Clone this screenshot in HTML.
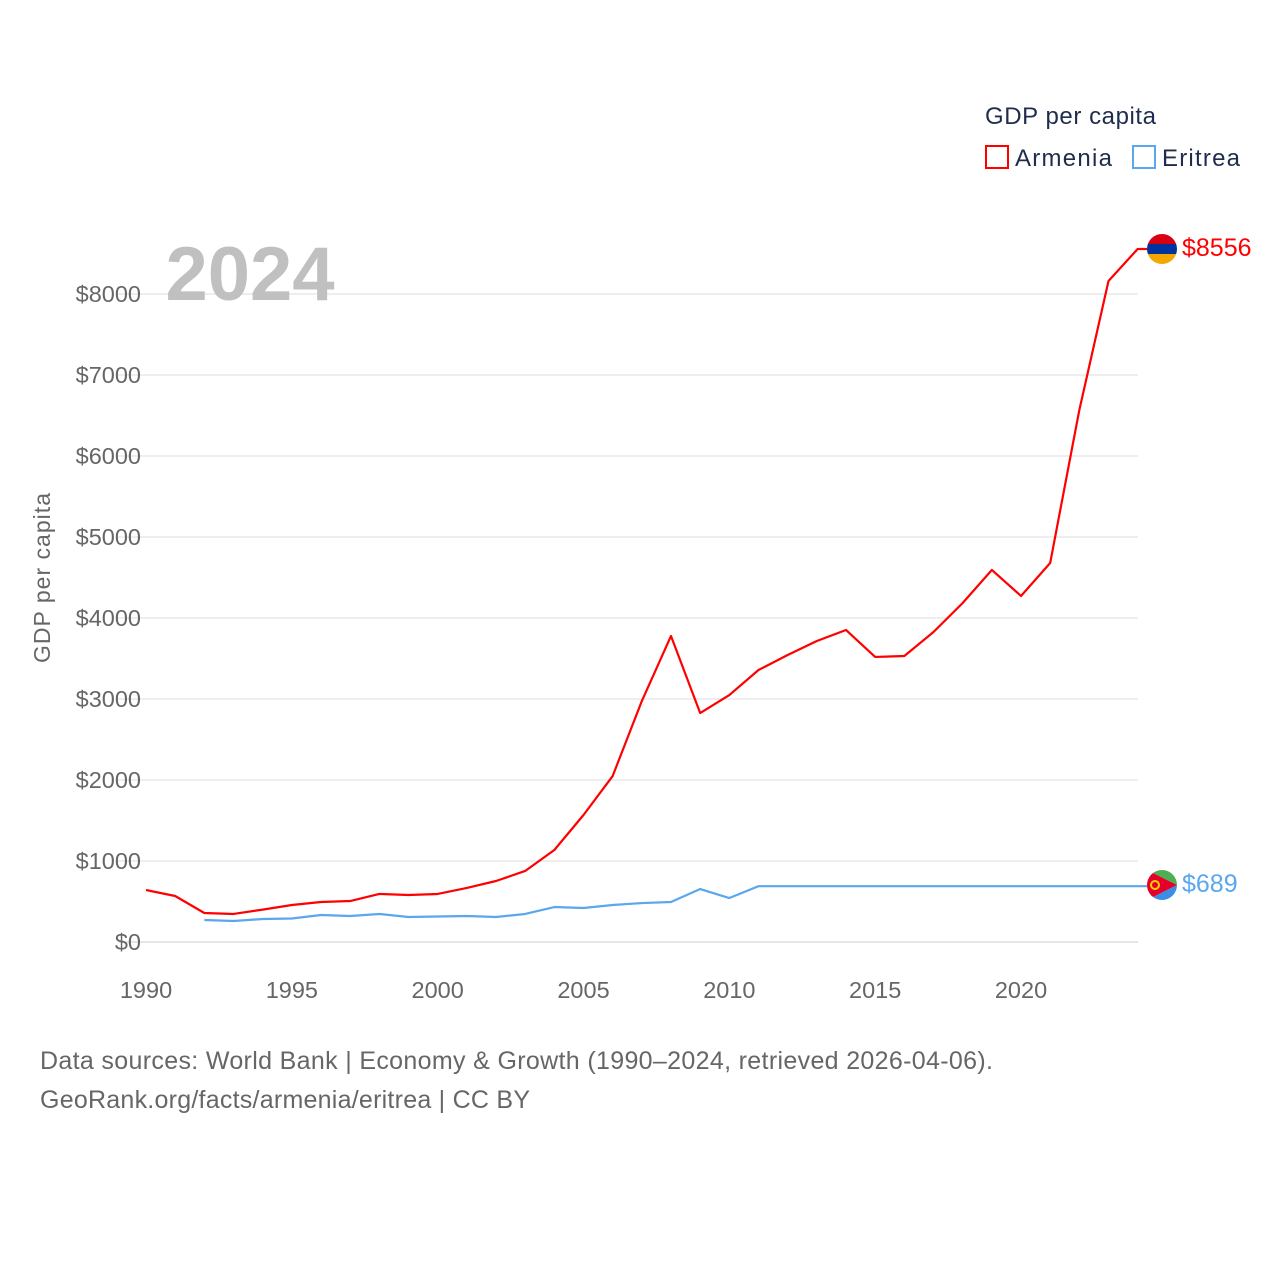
<!DOCTYPE html>
<html><head><meta charset="utf-8"><style>
body{margin:0;background:#fff;font-family:"Liberation Sans",sans-serif;}
svg text{font-family:"Liberation Sans",sans-serif;}
</style></head><body>
<svg width="1280" height="1280" viewBox="0 0 1280 1280">
<defs>
<clipPath id="c1"><circle cx="1162" cy="249" r="15"/></clipPath>
<clipPath id="c2"><circle cx="1162" cy="885" r="15"/></clipPath>
</defs>
<g id="grid"></g>
<g id="yticks"></g>
<g id="xticks"></g>
<text x="250" y="300" font-size="76" font-weight="bold" fill="#c0c0c0" text-anchor="middle">2024</text>
<text transform="translate(50,578) rotate(-90)" font-size="23" fill="#666" text-anchor="middle" textLength="170">GDP per capita</text>
<g id="lines"></g>
<g clip-path="url(#c1)">
<rect x="1147" y="234" width="30" height="10" fill="#d90012"/><rect x="1147" y="244" width="30" height="10" fill="#0033a0"/><rect x="1147" y="254" width="30" height="10" fill="#f2a800"/>
</g>
<g clip-path="url(#c2)">
<polygon points="1147,870 1177,870 1177,885" fill="#4caf50"/><polygon points="1147,900 1177,900 1177,885" fill="#3a8ee6"/><polygon points="1147,870 1177,885 1147,900" fill="#e4002b"/><circle cx="1155" cy="885" r="4" fill="none" stroke="#f7d000" stroke-width="2"/>
</g>
<text x="1182" y="256" font-size="25" fill="red">$8556</text>
<text x="1182" y="892" font-size="25" fill="#5aa7ee">$689</text>
<text x="985" y="124" font-size="24" fill="#1f2d4d" textLength="171">GDP per capita</text>
<g><rect x="986" y="146" width="22" height="22" fill="none" stroke="red" stroke-width="2"/><text x="1015" y="166" font-size="24" fill="#1f2d4d" textLength="97">Armenia</text></g>
<g><rect x="1133" y="146" width="22" height="22" fill="none" stroke="#5aa7ee" stroke-width="2"/><text x="1162" y="166" font-size="24" fill="#1f2d4d" textLength="78">Eritrea</text></g>
<text x="40" y="1069" font-size="25" fill="#666" textLength="953">Data sources: World Bank | Economy &amp; Growth (1990–2024, retrieved 2026-04-06).</text>
<text x="40" y="1108" font-size="25" fill="#666" textLength="490">GeoRank.org/facts/armenia/eritrea | CC BY</text>
</svg>
<script>
const years=[];for(let y=1990;y<=2024;y++)years.push(y);
const armenia=[642,568,358,346,400,457,494,506,593,580,593,667,753,877,1136,1568,2049,2975,3778,2827,3049,3358,3543,3716,3852,3519,3531,3827,4185,4593,4272,4679,6568,8160,8556];
const eritrea=[null,null,272,259,284,290,333,321,346,309,315,321,309,346,432,420,457,481,494,654,543,689,689,689,689,689,689,689,689,689,689,689,689,689,689];
const yTicks=[0,1000,2000,3000,4000,5000,6000,7000,8000];
const xTicks=[1990,1995,2000,2005,2010,2015,2020];
const NS="http://www.w3.org/2000/svg";
const X=y=>146+(y-1990)*(875/30);
const Y=v=>942-v*0.081;
function mk(t,a,p){const e=document.createElementNS(NS,t);for(const k in a)e.setAttribute(k,a[k]);p.appendChild(e);return e;}
const g=document.getElementById('grid'),yt=document.getElementById('yticks'),xt=document.getElementById('xticks'),L=document.getElementById('lines');
yTicks.forEach(v=>{
 const l=mk('line',{x1:118,x2:1138,y1:Y(v),y2:Y(v),stroke:v===0?'#ddd':'#e8e8e8','stroke-width':1.5},g);
 
 
 const t=mk('text',{x:141,y:Y(v)+8,'font-size':23.5,fill:'#666','text-anchor':'end'},yt);t.textContent='$'+v;
 
 
});
xTicks.forEach(v=>{
 const t=mk('text',{x:X(v),y:998,'font-size':23.5,fill:'#666','text-anchor':'middle'},xt);t.textContent=v;
 
 
});
function line(vals,color,name){
 let d='';let last=null;
 vals.forEach((v,i)=>{if(v==null)return;d+=(d?'L':'M')+X(years[i])+','+Y(v);last=Y(v);});
 d+='L1147,'+last;
 const p=mk('path',{d:d,fill:'none',stroke:color,'stroke-width':2.2,'stroke-linejoin':'round'},L);
 
 
}
line(armenia,'red','armenia-line');
line(eritrea,'#5aa7ee','eritrea-line');
</script>
</body></html>
